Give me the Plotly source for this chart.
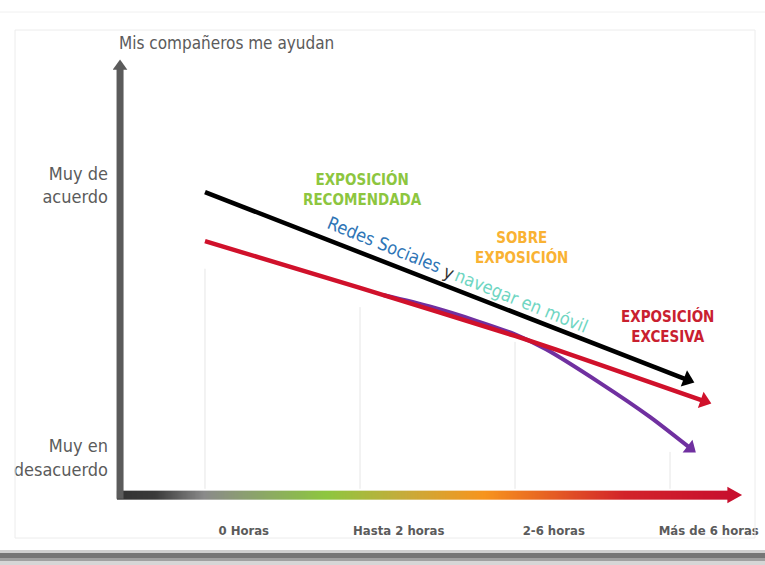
import numpy as np
import plotly.graph_objects as go

# ---------------- data ----------------
categories = ["0 Horas", "Hasta 2 horas", "2-6 horas", "Más de 6 horas"]
cat_pos = [0.25, 1.25, 2.25, 3.25]

y_levels = [10.0, 1.2]
y_labels = ["Muy de<br>acuerdo", "Muy en<br>desacuerdo"]

# black line
black_x = [0.0, 3.112]
black_y = [9.77, 3.716]
# red line
red_x = [0.0, 1.0, 2.0, 2.55, 3.221]
red_y = [8.19, 6.68, 5.13, 4.20, 3.03]
# purple line
purple_x = [1.15, 1.45, 1.75, 2.00, 2.20, 2.55, 2.87, 3.131]
purple_y = [6.45, 6.08, 5.62, 5.18, 4.70, 3.61, 2.52, 1.51]

grid_x = [0, 1, 2, 3]
grid_top = [7.3, 6.06, 4.94, 1.39]

FONT = "DejaVu Sans Condensed, Liberation Sans Narrow, sans-serif"
GRAY = "#5b5b5b"

fig = go.Figure()

# gradient x-axis band (decoration)
n = 240
edges = np.linspace(-0.568, 3.38, n + 1)
fig.add_trace(go.Heatmap(
    x=edges, y=[-0.14, 0.14], z=[np.linspace(0, 1, n)],
    colorscale=[[0, "#333333"], [0.06, "#3a3a3a"], [0.14, "#8a8a8a"],
                [0.34, "#8dc63f"], [0.47, "#c7ab3a"], [0.60, "#f7941d"],
                [0.83, "#d2232a"], [1, "#c8102e"]],
    zsmooth="best", showscale=False, hoverinfo="skip"))

# lines
def add_line(xs, ys, color, width, size, shape="linear", smoothing=1.0):
    sizes = [0] * (len(xs) - 1) + [size]
    fig.add_trace(go.Scatter(
        x=xs, y=ys, mode="lines+markers",
        line=dict(color=color, width=width, shape=shape, smoothing=smoothing),
        marker=dict(symbol="triangle-up", size=sizes, color=color, opacity=1,
                    angleref="previous", line=dict(width=0)),
        hoverinfo="skip", showlegend=False))

add_line(purple_x, purple_y, "#7030a0", 4, 14, shape="spline", smoothing=0.7)
add_line(black_x, black_y, "#000000", 4.5, 15)
add_line(red_x, red_y, "#d0112b", 4.5, 15, shape="spline", smoothing=0.6)

def px(xp):
    return (xp - 113) / 647
def py(yp):
    return (505 - yp) / 455

shapes = []
# grid lines
for gx, gt in zip(grid_x, grid_top):
    shapes.append(dict(type="line", xref="x", yref="y", x0=gx, x1=gx, y0=0.2, y1=gt,
                       line=dict(color="#e6e6e6", width=1), layer="below"))
# y axis arrow
yx = -0.548
shapes.append(dict(type="line", xref="x", yref="y", x0=yx, x1=yx, y0=-0.12, y1=13.8,
                   line=dict(color=GRAY, width=7)))
shapes.append(dict(type="path", xref="x", yref="y",
                   path=f"M {yx-0.047} 13.72 L {yx+0.047} 13.72 L {yx} 14.05 Z",
                   fillcolor=GRAY, line=dict(width=0)))
# x axis arrow head
shapes.append(dict(type="path", xref="x", yref="y",
                   path="M 3.37 -0.27 L 3.37 0.27 L 3.465 0 Z",
                   fillcolor="#c8102e", line=dict(width=0)))
# frame
shapes.append(dict(type="line", xref="paper", yref="paper", x0=px(0), x1=px(765),
                   y0=py(12), y1=py(12), line=dict(color="#f0f0f0", width=1)))
shapes.append(dict(type="rect", xref="paper", yref="paper", x0=px(15), x1=px(755),
                   y0=py(538), y1=py(30), line=dict(color="#ececec", width=1)))
# bottom shadow
for y0, y1, c in [(550, 553, "#cfcfcf"), (553, 558, "#767676"),
                  (558, 561, "#a0a0a0"), (561, 566, "#d6d6d6")]:
    shapes.append(dict(type="rect", xref="paper", yref="paper", x0=px(0), x1=px(765),
                       y0=py(y1), y1=py(y0), fillcolor=c, line=dict(width=0)))

annotations = [
    dict(x=px(117), y=py(43), xref="paper", yref="paper", xanchor="left", yanchor="middle",
         text="Mis compañeros me ayudan", showarrow=False,
         font=dict(family=FONT, size=17, color=GRAY)),
    dict(x=1.019, y=9.84, text="EXPOSICIÓN<br>RECOMENDADA", showarrow=False,
         font=dict(family=FONT, size=15, color="#8dc63f", weight="bold")),
    dict(x=1.16, y=8.08, text="Redes Sociales", textangle=22, showarrow=False,
         font=dict(family=FONT, size=18, color="#2e75b6")),
    dict(x=1.575, y=7.17, text="y", textangle=22, showarrow=False,
         font=dict(family=FONT, size=18, color="#333333")),
    dict(x=2.04, y=6.29, text="navegar en móvil", textangle=22, showarrow=False,
         font=dict(family=FONT, size=18, color="#6fd6c2")),
    dict(x=2.039, y=7.97, text="SOBRE<br>EXPOSICIÓN", showarrow=False,
         font=dict(family=FONT, size=15, color="#f9b233", weight="bold")),
    dict(x=2.987, y=5.42, text="EXPOSICIÓN<br>EXCESIVA", showarrow=False,
         font=dict(family=FONT, size=15, color="#c9202f", weight="bold")),
]

fig.update_layout(
    width=765, height=565, autosize=False,
    margin=dict(l=113, r=5, t=50, b=60),
    paper_bgcolor="white", plot_bgcolor="white",
    showlegend=False, shapes=shapes, annotations=annotations,
    xaxis=dict(range=[-0.5935, 3.5806], showgrid=False, zeroline=False, showline=False,
               tickmode="array", tickvals=cat_pos, ticktext=categories, ticks="",
               ticklabelstandoff=16,
               tickfont=dict(family=FONT, size=13, color=GRAY, weight="bold"),
               fixedrange=True),
    yaxis=dict(range=[-0.3226, 14.355], showgrid=False, zeroline=False, showline=False,
               tickmode="array", tickvals=y_levels, ticktext=y_labels, ticks="",
               ticklabelstandoff=4,
               tickfont=dict(family=FONT, size=18, color=GRAY), fixedrange=True),
)

fig.write_html("out.html", config={"displayModeBar": False},
               post_script="document.body.style.margin='0';document.body.style.overflow='hidden';")
